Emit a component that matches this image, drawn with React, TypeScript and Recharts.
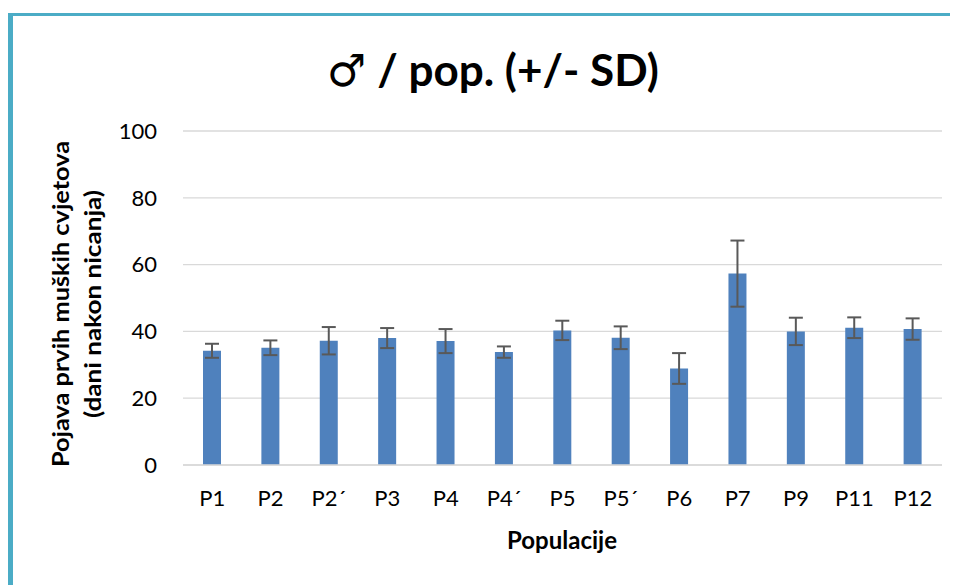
import { BarChart, Bar, XAxis, YAxis, CartesianGrid, ErrorBar } from 'recharts';

const populations = ['P1', 'P2', 'P2´', 'P3', 'P4', 'P4´', 'P5', 'P5´', 'P6', 'P7', 'P9', 'P11', 'P12'];
const meanDays = [34.2, 35.1, 37.2, 38.0, 37.1, 33.8, 40.3, 38.1, 28.9, 57.3, 40.0, 41.1, 40.7];
const sdDays = [2.1, 2.2, 4.1, 3.0, 3.6, 1.7, 2.9, 3.4, 4.6, 9.9, 4.1, 3.1, 3.2];
const yTicks = [0, 20, 40, 60, 80, 100];

const data = populations.map((name, i) => ({ name, mean: meanDays[i], sd: sdDays[i] }));

const font = 'Lato, "DejaVu Sans", sans-serif';

const App = () => {
  return (
    <div
      style={{
        marginTop: 5,
        width: 945,
        height: 580,
        borderTop: '3px solid #4BACC6',
        borderLeft: '5px solid #4BACC6',
        background: '#fff',
        fontFamily: font,
      }}
    >
      <BarChart
        width={945}
        height={560}
        data={data}
        margin={{ top: 115, right: 16, left: 0, bottom: 0 }}
      >
        <CartesianGrid vertical={false} stroke="#d9d9d9" strokeWidth={1.3} />
        <XAxis
          dataKey="name"
          height={111}
          axisLine={{ stroke: '#d9d9d9', strokeWidth: 1.3 }}
          tickLine={false}
          tickMargin={19}
          tick={{ fill: '#000', fontSize: 22, fontFamily: font }}
          interval={0}
        />
        <YAxis
          width={170}
          domain={[0, 100]}
          ticks={yTicks}
          axisLine={false}
          tickLine={false}
          tickMargin={20}
          tick={{ fill: '#000', fontSize: 22, fontFamily: font }}
        />
        <Bar dataKey="mean" fill="#4F81BD" barSize={18} isAnimationActive={false}>
          <ErrorBar dataKey="sd" width={7} stroke="#595959" strokeWidth={2} direction="y" />
        </Bar>
        <text x={480} y={70} textAnchor="middle" fontSize={44} fontWeight="bold" fontFamily={font} fill="#000">
          ♂ / pop. (+/- SD)
        </text>
        <text
          x={56}
          y={288}
          transform="rotate(-90, 56, 288)"
          textAnchor="middle"
          fontSize={22}
          fontWeight="bold"
          fontFamily={font}
          fill="#000"
          textLength={326}
          lengthAdjust="spacingAndGlyphs"
        >
          Pojava prvih muških cvjetova
        </text>
        <text
          x={88}
          y={288}
          transform="rotate(-90, 88, 288)"
          textAnchor="middle"
          fontSize={22}
          fontWeight="bold"
          fontFamily={font}
          fill="#000"
          textLength={228}
          lengthAdjust="spacingAndGlyphs"
        >
          (dani nakon nicanja)
        </text>
        <text x={549} y={533} textAnchor="middle" fontSize={24} fontWeight="bold" fontFamily={font} fill="#000">
          Populacije
        </text>
      </BarChart>
    </div>
  );
};

export default App;
